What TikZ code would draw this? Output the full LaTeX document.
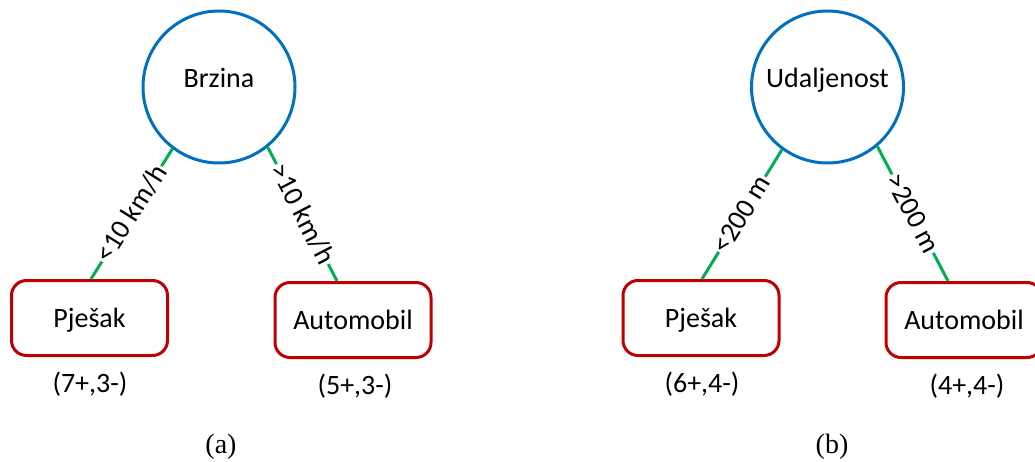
\documentclass[tikz,border=0pt]{standalone}
\usepackage{fontspec}
\setmainfont{Carlito}
\newfontfamily\capfont{Liberation Serif}
\usetikzlibrary{calc}
\definecolor{nodeblue}{RGB}{0,112,192}
\definecolor{leafred}{RGB}{192,0,0}
\definecolor{edgegreen}{RGB}{0,176,80}
\tikzset{
  attr/.style={circle,draw=nodeblue,line width=3pt,minimum size=152pt,inner sep=0pt},
  leaf/.style={rectangle,rounded corners=15pt,draw=leafred,line width=3pt,minimum width=156pt,minimum height=75pt,inner sep=0pt,
    font=\fontsize{28}{34}\selectfont,text height=18pt,text depth=0pt},
  ntext/.style={font=\fontsize{28}{34}\selectfont,text height=18pt,text depth=0pt,inner sep=0pt},
  branch/.style={draw=edgegreen,line width=3pt},
  elabel/.style={midway,sloped,fill=white,text=black,inner sep=1.5pt,font=\fontsize{28}{33}\selectfont,text height=18pt,text depth=1pt},
  count/.style={font=\fontsize{28}{34}\selectfont,inner sep=0pt},
  subcap/.style={font=\capfont\fontsize{28}{32}\selectfont,inner sep=0pt}
}
\begin{document}
\begin{tikzpicture}[x=1pt,y=-1pt]
\useasboundingbox (0,0) rectangle (1035,462);
\clip (0,0) rectangle (1035,462);
% (a)
\node[attr] (ca) at (219,87) {};
\node[ntext] (cat) at (219,79) {Brzina};
\node[leaf] (pa) at (89.5,318) {Pješak};
\node[leaf] (aa) at (353,320) {Automobil};
\coordinate (pae) at ($(pa.north)+(1.5,0)$);
\coordinate (aae) at ($(aa.north)+(-16,0)$);
\draw[branch] (ca.233) -- (pae) node[elabel] (la1) {<10 km/h};
\draw[branch] (ca.-51) -- (aae) node[elabel] (la2) {>10 km/h};
\node[count] (na1) at (90,384) {(7+,3-)};
\node[count] (na2) at (355,386) {(5+,3-)};
\node[subcap] (capa) at (221,447) {(a)};
% (b)
\node[attr] (cb) at (827.5,87) {};
\node[ntext] (cbt) at (827.5,79) {Udaljenost};
\node[leaf] (pb) at (701,318) {Pješak};
\node[leaf] (ab) at (964,320) {Automobil};
\coordinate (pbe) at ($(pb.north)+(1,0)$);
\coordinate (abe) at ($(ab.north)+(-16,0)$);
\draw[branch] (cb.234) -- (pbe) node[elabel] (lb1) {<200 m};
\draw[branch] (cb.-50) -- (abe) node[elabel] (lb2) {>200 m};
\node[count] (nb1) at (702,384) {(6+,4-)};
\node[count] (nb2) at (967,386) {(4+,4-)};
\node[subcap] (capb) at (832,447) {(b)};
\end{tikzpicture}
\end{document}
